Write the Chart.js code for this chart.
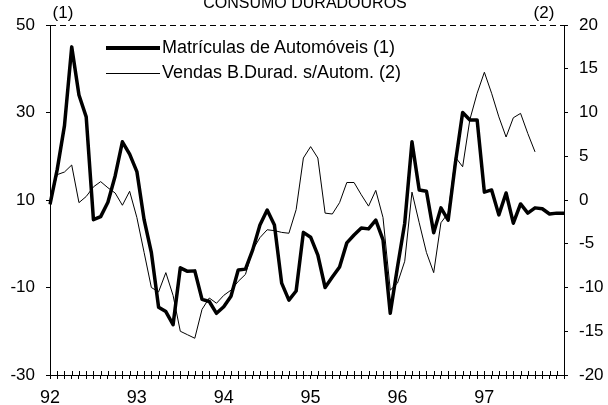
<!DOCTYPE html>
<html>
<head>
<meta charset="utf-8">
<script src="https://cdn.jsdelivr.net/npm/chart.js@4.4.0/dist/chart.umd.min.js"></script>
<style>
  html, body { margin: 0; padding: 0; background: #fff; }
  #wrap { position: relative; width: 608px; height: 405px; font-family: "Liberation Sans", Arial, sans-serif; color: #000; }
  .leg { position: absolute; left: 106px; height: 20px; line-height: 20px; font-size: 18px; white-space: nowrap; }
  .leg span.ln { display: inline-block; width: 54px; vertical-align: middle; margin-right: 2px; }
</style>
</head>
<body>
<div id="wrap">
  <canvas id="chart" width="608" height="405"></canvas>
  <div class="leg" style="top:37px"><span class="ln" style="border-top:4px solid #000"></span>Matrículas de Automóveis (1)</div>
  <div class="leg" style="top:62px"><span class="ln" style="border-top:1px solid #000"></span>Vendas B.Durad. s/Autom. (2)</div>
</div>
<script>
// year labels, one per january
const years = ["92", "93", "94", "95", "96", "97"];

// monthly values, jan 92 .. dec 97 (left axis, %)
const matriculas = [
  9, 17, 27, 45, 34, 29, 5.5, 6.2, 9.5, 15.5, 23.3, 20.5,
  16.5, 5.5, -2, -14.5, -15.5, -18.5, -5.5, -6.3, -6.2, -12.7, -13.2, -15.9,
  -14.4, -12, -6, -5.8, -1.4, 4.3, 7.7, 4.3, -9, -12.9, -10.8, 2.6,
  1.5, -2.6, -10, -7.6, -5.3, 0.2, 2, 3.6, 3.4, 5.4, 0.9, -15.9,
  -5.3, 4.7, 23.3, 12.3, 12, 2.5, 8.2, 5.4, 18.5, 30, 28.3, 28.3,
  11.8, 12.3, 6.6, 11.6, 4.7, 9.1, 7, 8.2, 8, 6.8, 7, 7
];

// right axis, ends aug 97
const vendas = [
  -0.3, 2.9, 3.2, 4.0, -0.3, 0.4, 1.5, 2.1, 1.4, 0.8, -0.6, 1.0,
  -2, -6, -10, -10.5, -8.3, -10.9, -15, -15.4, -15.8, -12.5, -11.2, -11.8,
  -10.9, -10.3, -9.3, -8.5, -5.7, -4.3, -3.4, -3.5, -3.7, -3.8, -1.1, 4.8,
  6.1, 4.8, -1.5, -1.6, -0.3, 2, 2, 0.6, -0.7, 1.1, -2, -10.3,
  -9.5, -7, 0.9, -2.6, -6, -8.3, -2.6, -1.5, 4.9, 3.8, 9.2, 12.2,
  14.6, 12.2, 9.5, 7.2, 9.4, 9.9, 7.6, 5.5
];

let labels = [];
for (var y = 0; y < years.length; y++) {
  for (var m = 0; m < 12; m++) {
    labels.push(m === 0 ? years[y] : "");
  }
}

const FONT = "Liberation Sans";

// title, axis notes, dashed top border, tick marks above the x axis
const extras = {
  id: "extras",
  afterDraw(chart) {
    const ctx = chart.ctx;
    const area = chart.chartArea;
    ctx.save();
    ctx.fillStyle = "#000";
    ctx.strokeStyle = "#000";
    ctx.font = "16px " + FONT;
    ctx.textAlign = "center";
    ctx.textBaseline = "alphabetic";
    ctx.fillText("CONSUMO DURADOUROS", 305, 7.5);
    ctx.font = "17px " + FONT;
    ctx.fillText("(1)", 63, 18);
    ctx.fillText("(2)", 544, 18);

    ctx.lineWidth = 1;
    ctx.setLineDash([6, 4]);
    ctx.beginPath();
    ctx.moveTo(area.left, area.top + 0.5);
    ctx.lineTo(area.right, area.top + 0.5);
    ctx.stroke();
    ctx.setLineDash([]);

    const xs = chart.scales.x;
    ctx.beginPath();
    for (var i = 0; i < xs.ticks.length; i++) {
      const px = Math.round(xs.getPixelForTick(i)) + 0.5;
      ctx.moveTo(px, area.bottom - 4);
      ctx.lineTo(px, area.bottom);
    }
    ctx.stroke();
    ctx.restore();
  }
};

new Chart(document.getElementById("chart"), {
  type: "line",
  data: {
    labels: labels,
    datasets: [{
      label: "Matrículas de Automóveis (1)",
      data: matriculas,
      yAxisID: "y",
      borderColor: "#000",
      borderWidth: 3.5,
      pointRadius: 0,
      tension: 0,
      borderJoinStyle: "round",
      fill: false
    }, {
      label: "Vendas B.Durad. s/Autom. (2)",
      data: vendas,
      yAxisID: "y2",
      borderColor: "#000",
      borderWidth: 1,
      pointRadius: 0,
      tension: 0,
      fill: false
    }]
  },
  options: {
    responsive: false,
    animation: false,
    layout: { padding: { top: 25, left: 0, right: 0, bottom: 0 } },
    plugins: {
      legend: { display: false },
      tooltip: { enabled: false }
    },
    scales: {
      x: {
        offset: false,
        grid: { drawOnChartArea: false, tickLength: 4, color: "#000" },
        border: { color: "#000", width: 1 },
        ticks: {
          autoSkip: false,
          maxRotation: 0,
          padding: 8,
          color: "#000",
          font: { family: FONT, size: 18 }
        },
        afterFit(scale) { scale.height = 30; }
      },
      y: {
        position: "left",
        min: -30,
        max: 50,
        grid: { drawOnChartArea: false, tickLength: 4, color: "#000" },
        border: { color: "#000", width: 1 },
        ticks: {
          stepSize: 20,
          padding: 11,
          color: "#000",
          font: { family: FONT, size: 17 }
        },
        afterFit(scale) { scale.width = 50; }
      },
      y2: {
        position: "right",
        min: -20,
        max: 20,
        grid: { drawOnChartArea: false, tickLength: 4, color: "#000" },
        border: { color: "#000", width: 1, dash: [8, 4] },
        ticks: {
          stepSize: 5,
          padding: 11,
          color: "#000",
          font: { family: FONT, size: 17 }
        },
        afterFit(scale) { scale.width = 44; }
      }
    }
  },
  plugins: [extras]
});
</script>
</body>
</html>
